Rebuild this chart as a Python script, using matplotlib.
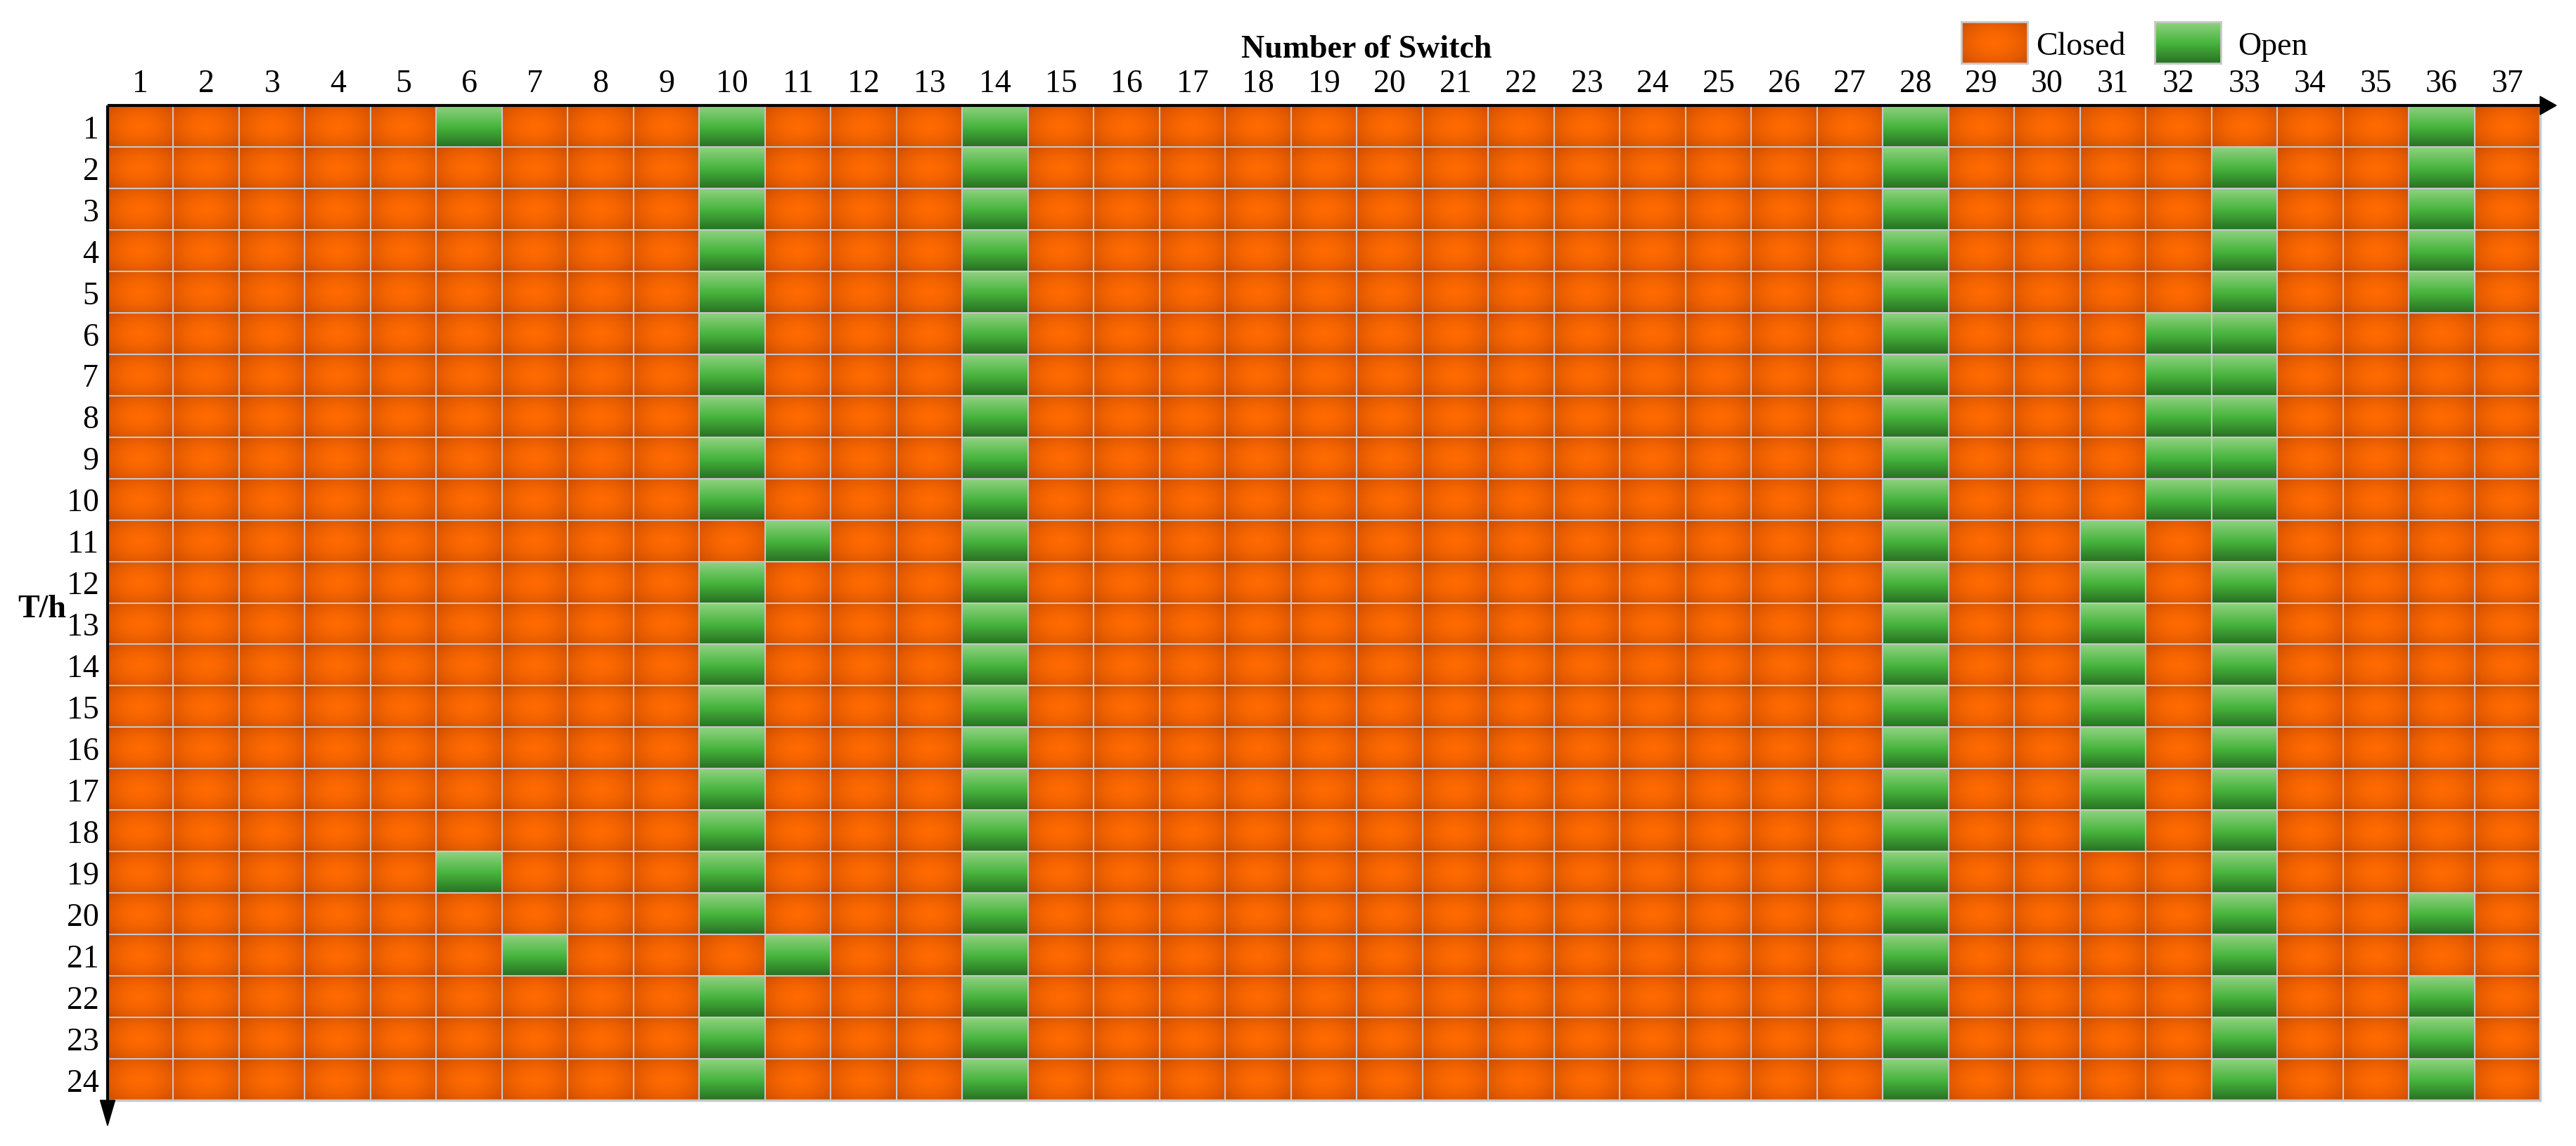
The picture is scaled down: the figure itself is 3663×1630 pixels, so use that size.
import numpy as np
import matplotlib
matplotlib.use("Agg")
import matplotlib.pyplot as plt
from matplotlib.patches import Polygon, Rectangle

plt.rcParams['font.family'] = ['Liberation Serif', 'DejaVu Serif']

# ---------------- data ----------------
switches = list(range(1, 38))          # column categories
hours = list(range(1, 25))             # row categories
open_switches = [                      # open switches for each hour
    [6, 10, 14, 28, 36],    # 1
    [10, 14, 28, 33, 36],   # 2
    [10, 14, 28, 33, 36],   # 3
    [10, 14, 28, 33, 36],   # 4
    [10, 14, 28, 33, 36],   # 5
    [10, 14, 28, 32, 33],   # 6
    [10, 14, 28, 32, 33],   # 7
    [10, 14, 28, 32, 33],   # 8
    [10, 14, 28, 32, 33],   # 9
    [10, 14, 28, 32, 33],   # 10
    [11, 14, 28, 31, 33],   # 11
    [10, 14, 28, 31, 33],   # 12
    [10, 14, 28, 31, 33],   # 13
    [10, 14, 28, 31, 33],   # 14
    [10, 14, 28, 31, 33],   # 15
    [10, 14, 28, 31, 33],   # 16
    [10, 14, 28, 31, 33],   # 17
    [10, 14, 28, 31, 33],   # 18
    [6, 10, 14, 28, 33],    # 19
    [10, 14, 28, 33, 36],   # 20
    [7, 11, 14, 28, 33],    # 21
    [10, 14, 28, 33, 36],   # 22
    [10, 14, 28, 33, 36],   # 23
    [10, 14, 28, 33, 36],   # 24
]
legend_labels = ["Closed", "Open"]

state = np.zeros((len(hours), len(switches)), dtype=int)
for i, row in enumerate(open_switches):
    for s in row:
        state[i, switches.index(s)] = 1

# ---------------- cell textures ----------------
TH, TW = 59, 94
yy, xx = np.mgrid[0:TH, 0:TW]
u = (xx + 0.5) / TW - 0.5
v = (yy + 0.5) / TH - 0.5
r = np.sqrt((u / 0.5) ** 2 + (v / 0.5) ** 2)
t = np.clip(r / 1.35, 0, 1) ** 1.7
c_center = np.array([255, 106, 0]) / 255.0
c_edge = np.array([205, 78, 0]) / 255.0
orange_tile = c_center * (1 - t[..., None]) + c_edge * t[..., None]

g = (yy + 0.5) / TH
stops = np.array([0.0, 0.52, 1.0])
g_cols = np.array([[146, 210, 130], [70, 180, 60], [40, 112, 34]]) / 255.0
green_tile = np.stack([np.interp(g, stops, g_cols[:, k]) for k in range(3)], axis=-1)

tiles = [orange_tile, green_tile]
img = np.zeros((len(hours) * TH, len(switches) * TW, 3))
for i in range(len(hours)):
    for j in range(len(switches)):
        img[i * TH:(i + 1) * TH, j * TW:(j + 1) * TW] = tiles[state[i, j]]

# ---------------- figure ----------------
W, H = 3663, 1631
fig = plt.figure(figsize=(W / 100, H / 100), dpi=100)
L, R, T, B = 153, 3612, 151, 1566
ax = fig.add_axes([L / W, 1 - B / H, (R - L) / W, (B - T) / H])

n_s, n_h = len(switches), len(hours)
ax.imshow(img, extent=(0.5, n_s + 0.5, n_h + 0.5, 0.5), aspect='auto',
          interpolation='bilinear')
ax.set_xlim(0.5, n_s + 0.5)
ax.set_ylim(n_h + 0.5, 0.5)

grid_c = '#C8C8C8'
for k in range(1, n_s + 1):
    ax.axvline(k + 0.5, color=grid_c, lw=1.5, zorder=3)
for k in range(1, n_h + 1):
    ax.axhline(k + 0.5, color=grid_c, lw=1.5, zorder=3)
ax.axvline(n_s + 0.5, color=grid_c, lw=2.5, zorder=3, clip_on=False)
ax.axhline(n_h + 0.5, color=grid_c, lw=2.5, zorder=3, clip_on=False)

for sp in ax.spines.values():
    sp.set_visible(False)

ax.xaxis.tick_top()
ax.set_xticks(switches)
ax.set_xticklabels([str(s) for s in switches], fontsize=33)
ax.set_yticks(hours)
ax.set_yticklabels([str(h) for h in hours], fontsize=33)
ax.tick_params(axis='x', length=0, pad=7)
ax.tick_params(axis='y', length=0, pad=9)

# axes lines with arrows
aw = (R - L)
ah = (B - T)
ax.plot([0, 1.0], [1.0, 1.0], transform=ax.transAxes, color='black', lw=3.0,
        clip_on=False, zorder=5, solid_capstyle='butt')
ax.plot([0, 0], [0.0, 1.0], transform=ax.transAxes, color='black', lw=3.0,
        clip_on=False, zorder=5, solid_capstyle='butt')
ax.add_patch(Polygon([[1.0, 1 + 13 / ah], [1.0, 1 - 13 / ah], [1 + 23 / aw, 1.0]],
                     closed=True, transform=ax.transAxes, color='black',
                     clip_on=False, zorder=5))
ax.add_patch(Polygon([[-10.5 / aw, 0.0], [10.5 / aw, 0.0], [0.0, -36 / ah]],
                     closed=True, transform=ax.transAxes, color='black',
                     clip_on=False, zorder=5))

# titles
fig.text(1943 / W, 1 - 82 / H, 'Number of Switch', ha='center', va='baseline',
         fontsize=33, fontweight='bold')
fig.text(25 / W, 1 - 867 / H, 'T/h', ha='left', va='center',
         fontsize=33, fontweight='bold')

# legend
leg_pos = [(2789, legend_labels[0], 2895), (3064, legend_labels[1], 3182)]
for k, (x0, lab, tx) in enumerate(leg_pos):
    lax = fig.add_axes([x0 / W, 1 - 91 / H, 94 / W, 59 / H])
    lax.imshow(tiles[k], aspect='auto', interpolation='bilinear')
    lax.set_xticks([])
    lax.set_yticks([])
    for sp in lax.spines.values():
        sp.set_color(grid_c)
        sp.set_linewidth(2.0)
    fig.text(tx / W, 1 - 78 / H, lab, ha='left', va='baseline', fontsize=33)

fig.savefig('out.png', dpi=100, facecolor='white')
